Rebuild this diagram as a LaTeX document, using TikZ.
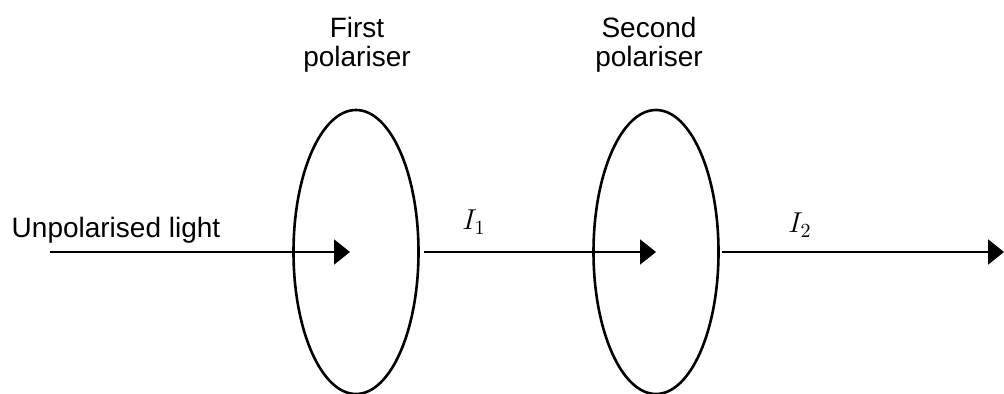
\documentclass[tikz,border=0pt]{standalone}
\usepackage{fontspec}
\setmainfont{Liberation Sans}
\usetikzlibrary{arrows.meta,shapes.geometric,positioning}

\begin{document}
\begin{tikzpicture}[
  x=0.5pt,y=-0.5pt,
  pol/.style={ellipse,draw,line width=1.3pt,minimum width=62.5pt,minimum height=142pt,inner sep=0pt},
  lbl/.style={font=\fontsize{14}{14.5}\selectfont,align=center,inner sep=0pt},
  ray/.style={-{Triangle[length=8pt,width=12.5pt]},line width=1pt}
]
  \useasboundingbox (0,0) rectangle (1004,394);

  % polarisers
  \node[pol] (pol1) at (356,252) {};
  \node[pol] (pol2) at (656,252) {};
  \coordinate (src) at (50,252);
  \coordinate (dst) at (1004,252);

  % labels
  \node[lbl] (first) at (357,45) {First\\polariser};
  \node[lbl] (second) at (649,45) {Second\\polariser};
  \node[lbl] (unpol) at (116,230) {Unpolarised light};
  \node[lbl,anchor=base] (int1) at (474,230) {$I_1$};
  \node[lbl,anchor=base] (int2) at (800,233) {$I_2$};

  % light path
  \draw[ray,shorten >=3pt] (src) -- (pol1.center);
  \draw[ray,shorten <=2pt] (pol1.east) -- (pol2.center);
  \draw[ray,shorten <=1pt] (pol2.east) -- (dst);
\end{tikzpicture}
\end{document}
